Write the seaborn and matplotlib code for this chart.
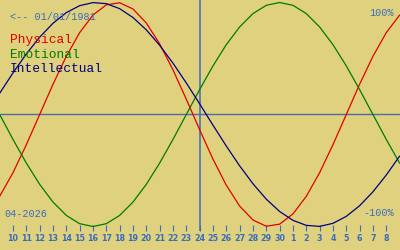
import matplotlib
matplotlib.use("Agg")
import matplotlib.pyplot as plt
import seaborn as sns
import pandas as pd

# Day offsets from 10 April 2026 (April 9 .. May 9)
day_offsets = list(range(-1, 30))
tick_positions = list(range(0, 29))
tick_labels = [str(d) for d in range(10, 31)] + [str(d) for d in range(1, 9)]

physical = [-0.7308, -0.5196, -0.2698, 0.0, 0.2698, 0.5196, 0.7308, 0.8879,
            0.9791, 0.9977, 0.9423, 0.8170, 0.6311, 0.3984, 0.1362, -0.1362,
            -0.3984, -0.6311, -0.8170, -0.9423, -0.9977, -0.9791, -0.8879,
            -0.7308, -0.5196, -0.2698, 0.0, 0.2698, 0.5196, 0.7308, 0.8879]
emotional = [0.0, -0.2225, -0.4339, -0.6235, -0.7818, -0.9010, -0.9749, -1.0,
             -0.9749, -0.9010, -0.7818, -0.6235, -0.4339, -0.2225, 0.0, 0.2225,
             0.4339, 0.6235, 0.7818, 0.9010, 0.9749, 1.0, 0.9749, 0.9010,
             0.7818, 0.6235, 0.4339, 0.2225, 0.0, -0.2225, -0.4339]
intellectual = [0.1893, 0.3717, 0.5406, 0.6901, 0.8146, 0.9096, 0.9718, 0.9989,
                0.9898, 0.9450, 0.8660, 0.7557, 0.6182, 0.4582, 0.2817, 0.0951,
                -0.0951, -0.2817, -0.4582, -0.6182, -0.7557, -0.8660, -0.9450,
                -0.9898, -0.9989, -0.9718, -0.9096, -0.8146, -0.6901, -0.5406,
                -0.3717]
series_names = ["Physical", "Emotional", "Intellectual"]
series_colors = {"Physical": "#e00000", "Emotional": "#007a00", "Intellectual": "#000080"}
today_offset = 14
birth_label = "<-- 01/01/1981"
month_label = "04-2026"

BG = "#e0d17f"
BLUE = "#3a6cbc"

df = pd.concat([
    pd.DataFrame({"day": day_offsets, "value": vals, "series": name})
    for name, vals in zip(series_names, [physical, emotional, intellectual])
])

sns.set_style("white")
fig = plt.figure(figsize=(4, 2.5), dpi=100)
fig.patch.set_facecolor(BG)
ax = fig.add_axes([0, 19 / 250, 1, 231 / 250])
ax.set_facecolor(BG)

ax.axhline(0, color="#4a6fa5", lw=1.0, zorder=1)
ax.axvline(today_offset, color=BLUE, lw=1.1, zorder=1)

sns.lineplot(data=df, x="day", y="value", hue="series", palette=series_colors,
             hue_order=series_names, linewidth=0.9, legend=False, ax=ax,
             sort=False, zorder=3)

ax.set_xlim(-0.975, 29.03)
ax.set_ylim(-1.0402, 1.0223)
for s in ax.spines.values():
    s.set_visible(False)
ax.set_yticks([])
ax.set_xticks(tick_positions)
ax.set_xticklabels(tick_labels, fontfamily="DejaVu Sans", fontweight="bold",
                   fontsize=5.8, color=BLUE)
ax.tick_params(axis="x", bottom=True, direction="in", length=4.5, width=0.8,
               color=BLUE, pad=2)
ax.set_xlabel("")
ax.set_ylabel("")

mono = "Liberation Mono"
def ftext(x, y, s, **kw):
    fig.text(x / 400, 1 - y / 250, s, va="baseline", family=mono, **kw)

ftext(10, 20, birth_label, fontsize=7.3, color=BLUE)
ftext(394, 16, "100%", fontsize=7.3, color=BLUE, ha="right")
ftext(394, 216, "-100%", fontsize=7.3, color=BLUE, ha="right")
ftext(4, 217, month_label, fontsize=7.3, color=BLUE)
ftext(10, 43, "Physical", fontsize=9.3, color=series_colors["Physical"])
ftext(10, 57.5, "Emotional", fontsize=9.3, color=series_colors["Emotional"])
ftext(10, 72, "Intellectual", fontsize=9.3, color=series_colors["Intellectual"])

fig.savefig("out.png", dpi=100, facecolor=BG)
